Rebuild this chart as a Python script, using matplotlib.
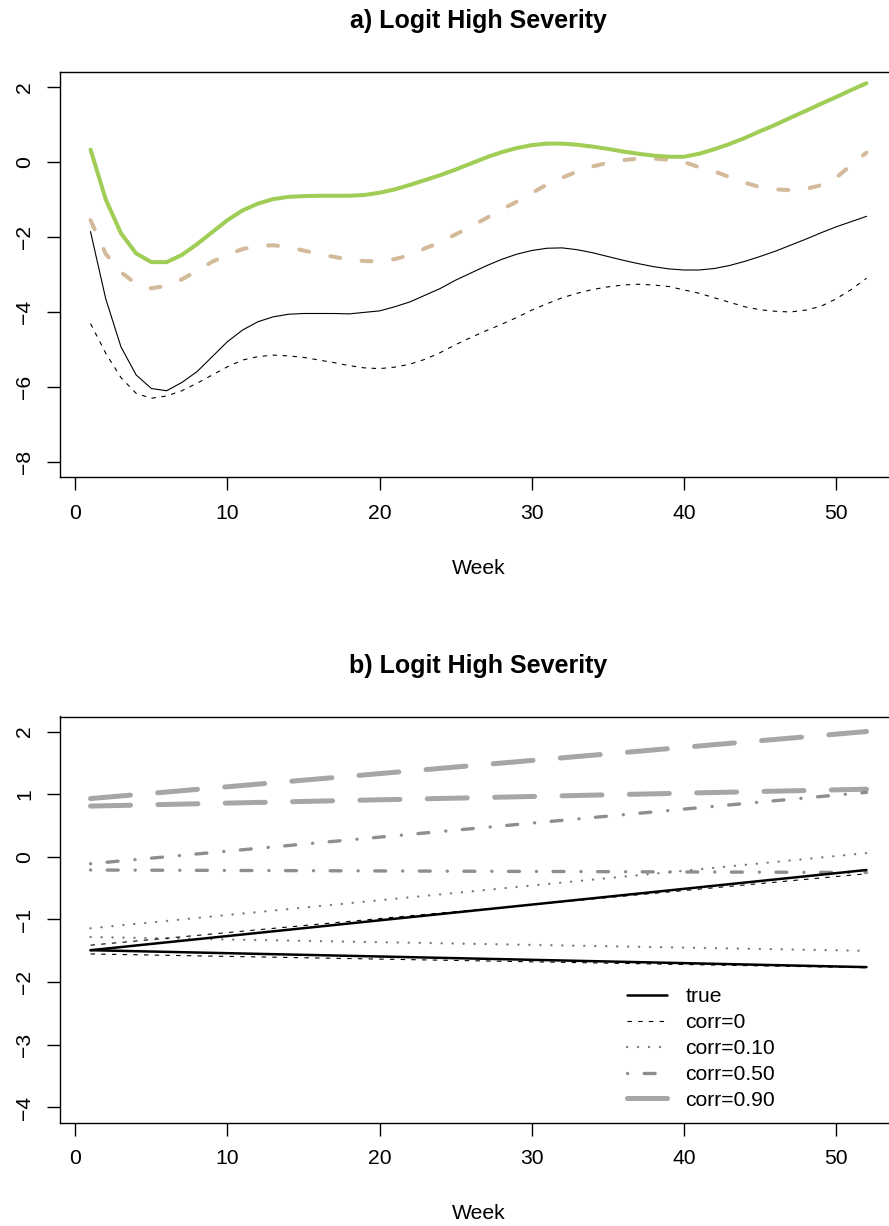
import matplotlib
matplotlib.use("Agg")
import matplotlib.pyplot as plt
from matplotlib.lines import Line2D

plt.rcParams['font.family'] = ['Liberation Sans', 'DejaVu Sans']
plt.rcParams['lines.scale_dashes'] = False

# ---------------- Panel a data ----------------
weeks = list(range(1, 53))
green_solid = [0.33, -1.00, -1.90, -2.44, -2.67, -2.67, -2.48, -2.19, -1.87, -1.55,
               -1.29, -1.11, -0.99, -0.93, -0.91, -0.90, -0.90, -0.90, -0.88, -0.82,
               -0.73, -0.61, -0.48, -0.35, -0.20, -0.04, 0.12, 0.26, 0.37, 0.45,
               0.49, 0.49, 0.46, 0.41, 0.35, 0.28, 0.22, 0.17, 0.14, 0.14,
               0.22, 0.34, 0.48, 0.64, 0.82, 0.99, 1.18, 1.36, 1.55, 1.73,
               1.92, 2.10]
tan_dashed = [-1.55, -2.45, -2.94, -3.25, -3.37, -3.30, -3.13, -2.90, -2.66, -2.47,
              -2.32, -2.24, -2.22, -2.27, -2.36, -2.45, -2.53, -2.60, -2.64, -2.65,
              -2.59, -2.48, -2.30, -2.14, -1.93, -1.72, -1.50, -1.27, -1.06, -0.83,
              -0.60, -0.42, -0.25, -0.12, -0.02, 0.05, 0.09, 0.09, 0.06, 0.00,
              -0.14, -0.25, -0.40, -0.55, -0.67, -0.73, -0.75, -0.72, -0.62, -0.42,
              -0.08, 0.25]
black_solid = [-1.86, -3.65, -4.93, -5.68, -6.04, -6.10, -5.88, -5.59, -5.19, -4.79,
               -4.48, -4.26, -4.13, -4.06, -4.04, -4.04, -4.04, -4.05, -4.01, -3.97,
               -3.86, -3.73, -3.55, -3.37, -3.15, -2.96, -2.77, -2.60, -2.46, -2.36,
               -2.30, -2.29, -2.34, -2.42, -2.52, -2.62, -2.71, -2.79, -2.85, -2.88,
               -2.88, -2.84, -2.76, -2.65, -2.52, -2.38, -2.22, -2.06, -1.89, -1.73,
               -1.59, -1.45]
black_dashed = [-4.31, -5.10, -5.75, -6.17, -6.30, -6.24, -6.10, -5.90, -5.68, -5.46,
                -5.28, -5.19, -5.15, -5.17, -5.21, -5.28, -5.35, -5.43, -5.49, -5.51,
                -5.47, -5.39, -5.26, -5.08, -4.87, -4.68, -4.50, -4.33, -4.15, -3.95,
                -3.78, -3.62, -3.50, -3.40, -3.33, -3.28, -3.26, -3.28, -3.32, -3.41,
                -3.50, -3.62, -3.74, -3.86, -3.94, -3.98, -4.00, -3.95, -3.85, -3.65,
                -3.40, -3.10]

# ---------------- Panel b data (values at first and last week) ----------------
weeks_b = [1, 52]
true_up = [-1.49, -0.21]
true_lo = [-1.49, -1.76]
corr0_up = [-1.41, -0.27]
corr0_lo = [-1.55, -1.77]
corr10_up = [-1.14, 0.06]
corr10_lo = [-1.28, -1.50]
corr50_up = [-0.11, 1.03]
corr50_lo = [-0.21, -0.25]
corr90_up = [0.93, 2.00]
corr90_lo = [0.81, 1.08]

legend_labels = ["true", "corr=0", "corr=0.10", "corr=0.50", "corr=0.90"]
xticks = [0, 10, 20, 30, 40, 50]
yticks_a = [-8, -6, -4, -2, 0, 2]
yticks_b = [-4, -3, -2, -1, 0, 1, 2]

W, H = 889, 1226
fig = plt.figure(figsize=(W / 100, H / 100), dpi=100)

def px_axes(left, right, top, bottom):
    return fig.add_axes([left / W, (H - bottom) / H, (right - left) / W, (bottom - top) / H])

FS = 15.2
TFS = 18

def style(ax, yt, ylim, title):
    ax.set_xlim(-1.04, 54.04)
    ax.set_ylim(*ylim)
    ax.set_xticks(xticks)
    ax.set_yticks(yt)
    ax.tick_params(axis='both', direction='out', length=9.4, width=1.0, labelsize=FS, color='black')
    ax.tick_params(axis='x', pad=10)
    ax.tick_params(axis='y', pad=9, labelrotation=90)
    for lab in ax.get_yticklabels():
        lab.set_va('center')
    for s in ax.spines.values():
        s.set_linewidth(1.0)
    ax.set_title(title, fontsize=TFS, fontweight='bold', pad=31.5)
    ax.set_xlabel("Week", fontsize=FS)
    ax.xaxis.set_label_coords(0.5, -(568 - 477) / 405)
    ax.xaxis.label.set_va('center')

# ---------------- Panel a ----------------
ax1 = px_axes(59.5, 897.5, 72, 477)
ax1.plot(weeks, black_solid, color='black', lw=0.8)
ax1.plot(weeks, black_dashed, color='black', lw=0.8, dashes=(3.2, 4.0))
ax1.plot(weeks, tan_dashed, color='#D3BA9B', lw=2.9, dashes=(7.2, 15.6),
         dash_capstyle='round', solid_capstyle='round')
ax1.plot(weeks, green_solid, color='#9FCD55', lw=2.9, solid_capstyle='round')
style(ax1, yticks_a, (-8.4, 2.4), "a) Logit High Severity")

# ---------------- Panel b ----------------
ax2 = px_axes(59.5, 897.5, 716.5, 1122.5)
c90, c50, c10 = '#A6A6A6', '#8E8E8E', '#7A7A7A'
kw90 = dict(color=c90, lw=3.6, dashes=(28.8, 19.7), dash_capstyle='round')
kw50 = dict(color=c50, lw=2.4, dashes=(0.1, 11.9, 7.9, 12.2), dash_capstyle='round')
kw10 = dict(color=c10, lw=1.7, dashes=(0.1, 7.8), dash_capstyle='round')
kw0 = dict(color='black', lw=0.8, dashes=(3.2, 4.5))
kwt = dict(color='black', lw=1.8, solid_capstyle='round')

ax2.plot(weeks_b, corr90_up, **kw90)
ax2.plot(weeks_b, corr90_lo, **kw90)
ax2.plot(weeks_b, corr50_up, **kw50)
ax2.plot(weeks_b, corr50_lo, **kw50)
ax2.plot(weeks_b, corr10_up, **kw10)
ax2.plot(weeks_b, corr10_lo, **kw10)
ax2.plot(weeks_b, corr0_up, **kw0)
ax2.plot(weeks_b, corr0_lo, **kw0)
ax2.plot(weeks_b, true_up, **kwt)
ax2.plot(weeks_b, true_lo, **kwt)
style(ax2, yticks_b, (-4.24, 2.24), "b) Logit High Severity")

handles = [Line2D([], [], **kwt), Line2D([], [], **kw0), Line2D([], [], **kw10),
           Line2D([], [], **kw50), Line2D([], [], **kw90)]
ax2.legend(handles, legend_labels, loc='upper left',
           bbox_to_anchor=((626.7 - 59.5) / 838, (1122.5 - 987) / 406),
           frameon=False, fontsize=FS, handlelength=1.9, handletextpad=0.87,
           labelspacing=0.33, borderpad=0, borderaxespad=0)

fig.savefig("out.png", dpi=100)
